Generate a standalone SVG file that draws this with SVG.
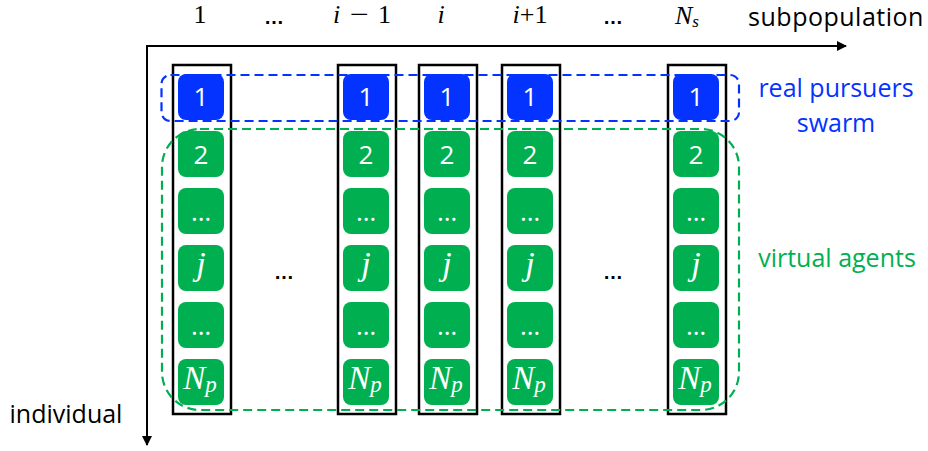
<svg xmlns="http://www.w3.org/2000/svg" width="928" height="451" viewBox="0 0 928 451">
  <style>
    .lbl { font-family: "Open Sans", "Liberation Sans", sans-serif; font-size: 25px; text-anchor: middle; }
    .dots { font-family: "Liberation Sans", sans-serif; font-size: 20px; font-weight: bold; text-anchor: middle; }
    .math { font-family: "Liberation Serif", serif; font-size: 26px; fill: #000; }
    .mi { font-style: italic; }
    .col { fill: none; stroke: #000; stroke-width: 2.5; }
    .real { fill: #0433FF; }
    .virt { fill: #00B050; }
    .cell-txt { font-family: "Open Sans", "Liberation Sans", sans-serif; font-size: 26px; fill: #fff; text-anchor: middle; }
    .cell-math { font-family: "Liberation Serif", serif; font-style: italic; fill: #fff; text-anchor: middle; }
    .axis { stroke: #000; stroke-width: 2; fill: none; }
    .dash-blue { fill: none; stroke: #0433FF; stroke-width: 2.2; stroke-dasharray: 9 5; }
    .dash-green { fill: none; stroke: #00B050; stroke-width: 2.2; stroke-dasharray: 9 5; }
  </style>
  <defs>
    <marker id="arrow" viewBox="0 0 10 10" refX="9" refY="5" markerWidth="5" markerHeight="5" orient="auto" markerUnits="strokeWidth">
      <path d="M0,0 L10,5 L0,10 z" fill="#000"/>
    </marker>
    <!-- one subpopulation column: frame, real pursuer cell and virtual agent cells -->
    <g id="column">
      <rect class="col" x="0" y="0" width="58" height="349"/>
      <rect class="real" x="5" y="9" width="46" height="46" rx="8"/>
      <text class="cell-txt" x="28" y="41">1</text>
      <rect class="virt" x="5" y="66" width="46" height="46" rx="8"/>
      <text class="cell-txt" x="28" y="99">2</text>
      <rect class="virt" x="5" y="123" width="46" height="46" rx="8"/>
      <text class="cell-txt" x="28" y="156" font-size="22">…</text>
      <rect class="virt" x="5" y="180" width="46" height="46" rx="8"/>
      <text class="cell-math" x="28" y="210" font-size="34">j</text>
      <rect class="virt" x="5" y="237" width="46" height="46" rx="8"/>
      <text class="cell-txt" x="28" y="270" font-size="22">…</text>
      <rect class="virt" x="5" y="294" width="46" height="46" rx="8"/>
      <text class="cell-math" x="27" y="324" font-size="33">N<tspan font-size="23" dy="3">p</tspan></text>
    </g>
  </defs>

  <!-- axes -->
  <g id="connectors">
    <line class="axis" x1="146" y1="46" x2="846" y2="46" marker-end="url(#arrow)"/>
    <line class="axis" x1="147" y1="45" x2="147" y2="445" marker-end="url(#arrow)"/>
  </g>

  <!-- subpopulation indices -->
  <g id="header">
    <text class="math" x="200" y="23" text-anchor="middle">1</text>
    <text class="dots" x="274" y="24">…</text>
    <text class="math"><tspan class="mi" x="333" y="23">i</tspan><tspan x="378" y="23">1</tspan></text>
    <text class="math" x="350" y="23" textLength="19" lengthAdjust="spacingAndGlyphs">−</text>
    <text class="math mi" x="441" y="23" text-anchor="middle">i</text>
    <text class="math" x="530" y="23" text-anchor="middle"><tspan class="mi">i</tspan>+1</text>
    <text class="dots" x="613" y="24">…</text>
    <text class="math mi" x="675" y="24" font-size="24">N<tspan font-size="17" dy="3">s</tspan></text>
    <text class="lbl" x="836" y="26" font-size="24" letter-spacing="0.5">subpopulation</text>
  </g>

  <g id="col-1"><use href="#column" x="173" y="65"/></g>
  <g id="col-i-1"><use href="#column" x="338" y="65"/></g>
  <g id="col-i"><use href="#column" x="419" y="65"/></g>
  <g id="col-i+1"><use href="#column" x="502" y="65"/></g>
  <g id="col-Ns"><use href="#column" x="668" y="65"/></g>

  <!-- omitted columns -->
  <text class="dots" x="284" y="279">…</text>
  <text class="dots" x="613" y="279">…</text>

  <!-- groupings -->
  <g id="real-swarm">
    <rect class="dash-blue" x="161.5" y="75" width="577.5" height="46" rx="9"/>
    <text class="lbl" x="836" y="97" fill="#0433FF">real pursuers</text>
    <text class="lbl" x="836" y="132" fill="#0433FF">swarm</text>
  </g>
  <g id="virtual-agents">
    <rect class="dash-green" x="162" y="129" width="577" height="281" rx="38"/>
    <text class="lbl" x="837" y="267" fill="#00B050">virtual agents</text>
  </g>

  <text id="individual" class="lbl" x="66" y="423">individual</text>
</svg>
